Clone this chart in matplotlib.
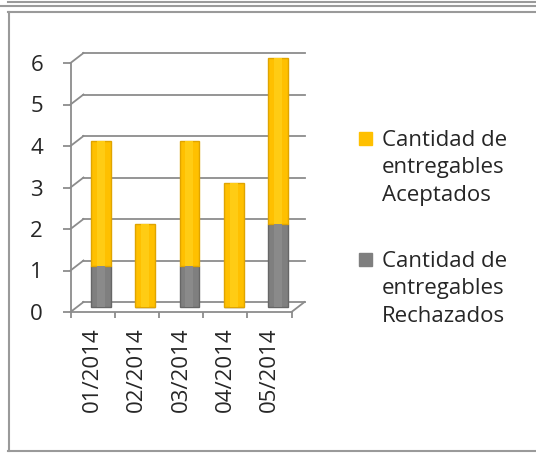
import numpy as np
import matplotlib.pyplot as plt
from matplotlib.lines import Line2D
from matplotlib.patches import Rectangle

plt.rcParams['font.family'] = ['Open Sans', 'DejaVu Sans']

# Datos: entregables por mes
meses = ['01/2014', '02/2014', '03/2014', '04/2014', '05/2014']
rechazados = [1, 0, 1, 0, 2]
aceptados = [3, 2, 3, 3, 4]

col_acep = '#FFC000'
col_acep_borde = '#E0A400'
col_rech = '#7F7F7F'
col_rech_borde = '#666666'
col_grid = '#8C8C8C'
col_texto = '#262626'
fs = 16

W, H = 536, 453
fig = plt.figure(figsize=(W / 100, H / 100), dpi=100)

# plano frontal del grafico (pixeles -> fraccion de figura)
x0, x1 = 70.5, 291.5
y0, y6 = 312, 63
ax = fig.add_axes([x0 / W, (H - y0) / H, (x1 - x0) / W, (y0 - y6) / H])
ax.set_xlim(-0.5, 4.5)
ax.set_ylim(0, 6)

# profundidad (pseudo 3D) en unidades de datos
DX = 13 / ((x1 - x0) / 5)
DY = 10 / ((y0 - y6) / 6)

x = np.arange(len(meses))

# pared del fondo: lineas de division y diagonales hacia el eje frontal
for v in range(7):
    ax.plot([-0.5 + DX, 4.5 + DX], [v + DY, v + DY], color=col_grid, lw=1.3,
            clip_on=False, zorder=1)
    ax.plot([-0.5, -0.5 + DX], [v, v + DY], color=col_grid, lw=1.3,
            clip_on=False, zorder=1)
ax.plot([4.5, 4.5 + DX], [0, DY], color=col_grid, lw=1.3, clip_on=False, zorder=1)

# columnas apiladas (cilindros simplificados)
xb = x + DX * 0.65
ax.bar(xb, rechazados, width=0.45, bottom=DY / 2, color=col_rech,
       edgecolor=col_rech_borde, lw=1.0, zorder=3, clip_on=False)
ax.bar(xb, aceptados, width=0.45, bottom=np.array(rechazados) + DY / 2,
       color=col_acep, edgecolor=col_acep_borde, lw=1.0, zorder=3, clip_on=False)
# brillo central
ax.bar(xb, rechazados, width=0.18, bottom=DY / 2, color='#8A8A8A', lw=0,
       zorder=4, clip_on=False)
ax.bar(xb, aceptados, width=0.18, bottom=np.array(rechazados) + DY / 2,
       color='#FFCC14', lw=0, zorder=4, clip_on=False)

# ejes
for s in ['top', 'right']:
    ax.spines[s].set_visible(False)
for s in ['left', 'bottom']:
    ax.spines[s].set_color(col_grid)
    ax.spines[s].set_linewidth(1.3)
ax.set_yticks(range(7))
ax.tick_params(axis='y', length=5.8, width=1.3, color=col_grid, pad=14,
               labelsize=fs, labelcolor=col_texto)
ax.set_xticks(x)
ax.set_xticklabels(meses, rotation=90, fontsize=fs, color=col_texto)
ax.tick_params(axis='x', length=0, pad=11)
ax.set_xticks(np.arange(-0.5, 5, 1), minor=True)
ax.tick_params(axis='x', which='minor', length=4, width=1.3, color=col_grid)
ax.set_facecolor('none')

# leyenda
leyenda = [(col_acep, 'Cantidad de\nentregables\nAceptados', 132),
           (col_rech, 'Cantidad de\nentregables\nRechazados', 253)]
for color, texto, ytop in leyenda:
    fig.patches.append(Rectangle((359 / W, (H - ytop - 13) / H), 13 / W, 13 / H,
                                 transform=fig.transFigure, color=color))
    fig.text(382 / W, (H - ytop + 2) / H, texto, fontsize=fs, color=col_texto,
             va='top', ha='left', linespacing=1.4)

# marco
gris = '#9A9A9A'
for yy, xa in [(2, 8), (6, 0), (11.5, 8), (451, 8)]:
    fig.add_artist(Line2D([xa / W, 1], [(H - yy) / H] * 2, color=gris, lw=1.5))
fig.add_artist(Line2D([8.5 / W] * 2, [(H - 11.5) / H, (H - 451) / H], color=gris, lw=1.5))

fig.savefig('out.png', dpi=100)
